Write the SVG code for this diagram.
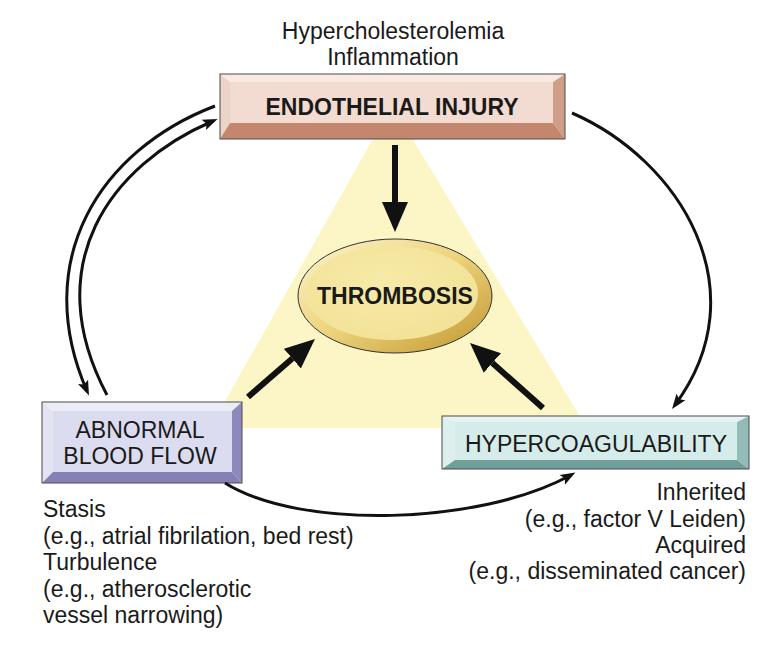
<svg xmlns="http://www.w3.org/2000/svg" width="770" height="648" viewBox="0 0 770 648">
<style>
  text { font-family: "Liberation Sans", Arial, sans-serif; fill: #1a1a1a; }
  .lbl { font-size: 23px; }
  .bold { font-size: 23px; font-weight: bold; }
  .outline { fill: none; stroke: #4a4a4a; stroke-width: 1; }
  .curve { fill: none; stroke: #111; stroke-width: 3; }
  .thick { fill: none; stroke: #111; stroke-width: 6; }
</style>
<defs>
  <marker id="small" markerUnits="userSpaceOnUse" markerWidth="16" markerHeight="12" refX="10" refY="6" orient="auto">
    <path d="M0,0.5 L15,6 L0,11.5 L3,6 z" fill="#111"/>
  </marker>
  <marker id="big" markerUnits="userSpaceOnUse" markerWidth="32" markerHeight="28" refX="0" refY="14" orient="auto">
    <path d="M0,1 L30,14 L0,27 z" fill="#111"/>
  </marker>
  <linearGradient id="rim" x1="0" y1="0" x2="1" y2="1">
    <stop offset="0" stop-color="#fdf5cf"/>
    <stop offset="0.5" stop-color="#ecd27a"/>
    <stop offset="1" stop-color="#c0952e"/>
  </linearGradient>
  <radialGradient id="face" cx="0.45" cy="0.4" r="0.7">
    <stop offset="0" stop-color="#f7eba8"/>
    <stop offset="1" stop-color="#f2e195"/>
  </radialGradient>
</defs>

<polygon id="triangle" points="392,105 210,428 587,428" fill="#fcf6c6"/>

<text class="lbl" x="393" y="39" text-anchor="middle">Hypercholesterolemia</text>
<text class="lbl" x="393" y="65" text-anchor="middle">Inflammation</text>

<g id="endothelial">
  <rect x="230" y="82" width="323" height="41" fill="#f2dcd1"/>
  <polygon points="220,74 565,74 553,82 230,82" fill="#f8e9e2"/>
  <polygon points="220,74 230,82 230,123 220,139" fill="#ecd3c7"/>
  <polygon points="565,74 565,139 553,123 553,82" fill="#cf9e89"/>
  <polygon points="220,139 565,139 553,123 230,123" fill="#c4866c"/>
  <rect class="outline" x="220" y="74" width="345" height="65"/>
  <text class="bold" x="392" y="115" text-anchor="middle">ENDOTHELIAL INJURY</text>
</g>

<g id="thrombosis">
  <ellipse cx="395" cy="296" rx="97" ry="57" fill="url(#rim)" stroke="#333" stroke-width="1"/>
  <ellipse cx="392" cy="293" rx="86" ry="47" fill="url(#face)"/>
  <text class="bold" x="395" y="304" text-anchor="middle">THROMBOSIS</text>
</g>

<g id="abnormal">
  <rect x="53" y="411" width="179" height="61" fill="#dcdcf0"/>
  <polygon points="42,402 242,402 232,411 53,411" fill="#ececf8"/>
  <polygon points="42,402 53,411 53,472 42,483" fill="#e3e3f4"/>
  <polygon points="242,402 242,483 232,472 232,411" fill="#8d89bd"/>
  <polygon points="42,483 242,483 232,472 53,472" fill="#8581b6"/>
  <rect class="outline" x="42" y="402" width="200" height="81"/>
  <text class="lbl" x="140" y="438" text-anchor="middle">ABNORMAL</text>
  <text class="lbl" x="140" y="464" text-anchor="middle">BLOOD FLOW</text>
</g>

<g id="hypercoag">
  <rect x="455" y="422" width="282" height="38" fill="#d6ecea"/>
  <polygon points="442,416 749,416 737,422 455,422" fill="#e7f4f2"/>
  <polygon points="442,416 455,422 455,460 442,469" fill="#dcefec"/>
  <polygon points="749,416 749,469 737,460 737,422" fill="#94bcb6"/>
  <polygon points="442,469 749,469 737,460 455,460" fill="#6f9f98"/>
  <rect class="outline" x="442" y="416" width="307" height="53"/>
  <text class="lbl" x="596" y="452" text-anchor="middle">HYPERCOAGULABILITY</text>
</g>

<g id="connectors">
  <line class="thick" x1="395" y1="145" x2="395" y2="202" marker-end="url(#big)"/>
  <line class="thick" x1="248" y1="397" x2="292.3" y2="358.6" marker-end="url(#big)"/>
  <line class="thick" x1="543" y1="408" x2="492.4" y2="363" marker-end="url(#big)"/>
  <path class="curve" d="M215,106 C100,150 30,260 87,391" marker-end="url(#small)"/>
  <path class="curve" d="M107,395 C38,265 110,165 213,121" marker-end="url(#small)"/>
  <path class="curve" d="M572,113 C680,160 760,290 675,405" marker-end="url(#small)"/>
  <path class="curve" d="M225,483 C300,530 480,525 571,475" marker-end="url(#small)"/>
</g>

<g id="notes-left">
  <text class="lbl" x="43" y="517">Stasis</text>
  <text class="lbl" x="43" y="543.5">(e.g., atrial fibrilation, bed rest)</text>
  <text class="lbl" x="43" y="570">Turbulence</text>
  <text class="lbl" x="43" y="596.5">(e.g., atherosclerotic</text>
  <text class="lbl" x="43" y="623">vessel narrowing)</text>
</g>
<g id="notes-right">
  <text class="lbl" x="746" y="500" text-anchor="end">Inherited</text>
  <text class="lbl" x="746" y="526.5" text-anchor="end">(e.g., factor V Leiden)</text>
  <text class="lbl" x="746" y="552.5" text-anchor="end">Acquired</text>
  <text class="lbl" x="746" y="579" text-anchor="end">(e.g., disseminated cancer)</text>
</g>
</svg>
